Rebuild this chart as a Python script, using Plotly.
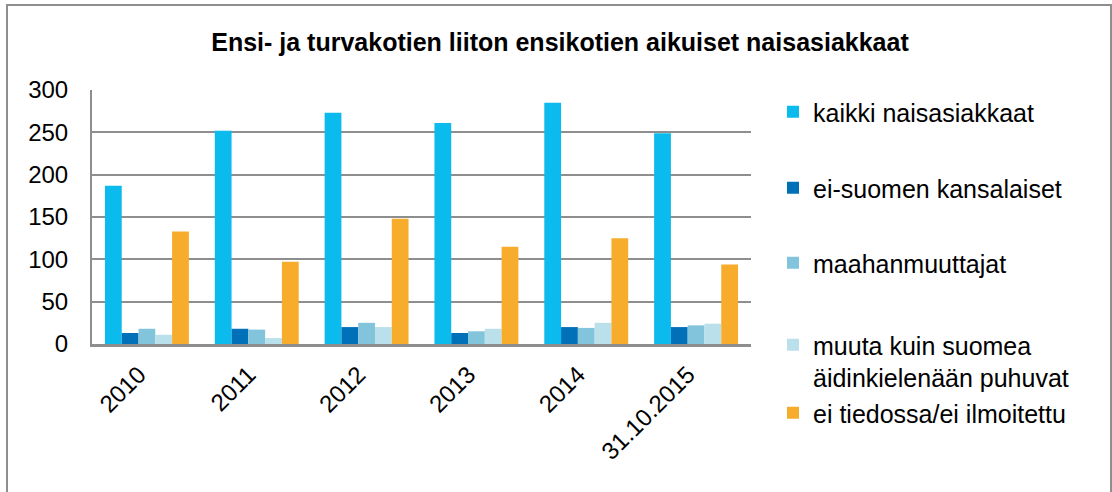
import plotly.graph_objects as go

categories = ["2010", "2011", "2012", "2013", "2014", "31.10.2015"]
kaikki = [187, 252, 273, 261, 285, 249]
ei_suomen = [13, 18, 20, 13, 20, 20]
maahanmuuttajat = [18, 17, 25, 15, 19, 22]
muuta_kieli = [11, 7, 20, 18, 25, 24]
ei_tiedossa = [133, 97, 148, 115, 125, 94]

series_names = [
    "kaikki naisasiakkaat",
    "ei-suomen kansalaiset",
    "maahanmuuttajat",
    "muuta kuin suomea<br>äidinkielenään puhuvat",
    "ei tiedossa/ei ilmoitettu",
]
series_values = [kaikki, ei_suomen, maahanmuuttajat, muuta_kieli, ei_tiedossa]
colors = ["#0BBBEE", "#0070B9", "#82C4DB", "#BAE0EB", "#F7AC2B"]

W, H = 1112, 492
FONT = "Liberation Sans, Arial, sans-serif"
FS = 24
LFS = 25

legend_y_px = [112, 188, 263, 345, 413]
legend_names = ["legend", "legend2", "legend3", "legend4", "legend5"]

fig = go.Figure()
for i, (name, vals, col) in enumerate(zip(series_names, series_values, colors)):
    fig.add_trace(go.Bar(
        x=categories, y=vals, name=name,
        marker=dict(color=col, line=dict(width=0)),
        legend=legend_names[i],
    ))

layout_legends = {}
for i, ln in enumerate(legend_names):
    layout_legends[ln] = dict(
        xref="container", yref="container",
        x=773 / W, y=1 - legend_y_px[i] / H,
        xanchor="left", yanchor="top" if i == 3 else "middle",
        font=dict(family=FONT, size=LFS, color="#000000"),
        bgcolor="rgba(0,0,0,0)", valign="top",
    )
layout_legends["legend4"]["y"] = 1 - (legend_y_px[3] - 23) / H

fig.update_layout(
    width=W, height=H,
    paper_bgcolor="white", plot_bgcolor="white",
    margin=dict(l=92, r=W - 751, t=90, b=H - 344),
    barmode="group", bargap=0.236, bargroupgap=0,
    title=dict(
        text="<b>Ensi- ja turvakotien liiton ensikotien aikuiset naisasiakkaat</b>",
        x=560 / W, xanchor="center", y=1 - 42 / H, yanchor="middle",
        font=dict(family=FONT, size=25, color="#000000"),
    ),
    font=dict(family=FONT, size=FS, color="#000000"),
    showlegend=True,
    **layout_legends,
)
fig.update_yaxes(
    range=[0, 300], tickvals=[0, 50, 100, 150, 200, 250, 300],
    showgrid=True, gridcolor="#8E8E8E", gridwidth=2,
    showline=True, linecolor="#8E8E8E", linewidth=2,
    zeroline=False, ticks="", ticklabelstandoff=17,
    tickfont=dict(family=FONT, size=FS, color="#000000"),
)
fig.update_xaxes(
    showline=True, linecolor="#8E8E8E", linewidth=3,
    showgrid=False, ticks="", tickangle=-45, ticklabelstandoff=4,
    ticklabelshift=-8,
    tickfont=dict(family=FONT, size=FS, color="#000000"),
)
fig.add_shape(type="rect", xref="paper", yref="paper",
              x0=(7 - 92) / 659, x1=(1111 - 92) / 659,
              y0=(344 - 520) / 254, y1=(344 - 5) / 254,
              line=dict(color="#8E8E8E", width=2), fillcolor="rgba(0,0,0,0)",
              layer="below")

fig.write_html("out.html", config={"displayModeBar": False},
               post_script="document.body.style.margin='0';")
